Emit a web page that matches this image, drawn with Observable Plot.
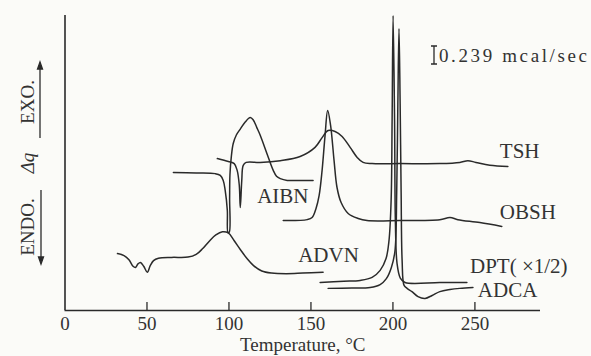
<!DOCTYPE html>
<html><head><meta charset="utf-8">
<script src="https://cdn.jsdelivr.net/npm/d3@7"></script>
<script src="https://cdn.jsdelivr.net/npm/@observablehq/plot@0.6"></script>
<style>
html,body{margin:0;padding:0;background:#fbfbf8;}
#chart svg{display:block;}
</style></head><body><div id="chart"></div>
<script>
// Temperature (°C) vs. DSC signal (arbitrary deflection units, 0–100)
const xTicks = [0, 50, 100, 150, 200, 250];

const tsh = [[92.9,51.5],[99.6,50.5],[103.2,49.8],[105.0,47.5],[106.3,42.4],[106.9,34.9],[107.8,44.0],[108.7,49.2],[110.5,50.2],[119,50.2],[131.3,50.8],[143.4,52.2],[152.5,55.3],[156.8,58.6],[160.5,61.0],[164.7,60.7],[169,59.0],[173.9,55.3],[178.2,51.9],[181.8,50.2],[187.3,49.8],[204.3,49.8],[228.6,49.8],[240.8,50.2],[245.7,50.8],[250.6,50.2],[259.1,49.2],[270.1,48.8]];

const aibn = [[66.1,46.8],[80,46.6],[91.6,46.4],[94.7,45.8],[96.5,44.1],[97.7,40.7],[99.0,33.9],[99.4,26.4],[100.2,26.6],[100.4,38],[100.6,46],[101.5,52.5],[102.6,56.6],[104.5,59.5],[106.9,61.5],[109.9,63.9],[113,65.4],[114.8,64.6],[117,62],[119,59.5],[123.3,53],[127,47.5],[129,45.5],[131.3,44.7],[135.5,44.1],[143.4,44.1],[151.3,44.1]];

const obsh = [[133.1,30.5],[147.7,30.8],[150.7,31.5],[153.1,34.6],[155,39],[156.8,47.5],[158.6,59.3],[160.2,67.8],[162.0,62.7],[164.1,50.8],[165.9,41.7],[168.4,36.6],[172.7,32.9],[178.8,31.2],[184.2,30.5],[204.3,30.5],[228.6,30.8],[234.8,31.5],[239.6,30.8],[253,29.8],[266.4,28.5]];

const advn = [[32.0,19.3],[36,18.6],[39,17.2],[41.5,15.0],[43,14.6],[44.5,15.8],[46,16.3],[48,15.0],[50.2,13.0],[52,15.2],[54,16.9],[57,17.7],[65,18.0],[75,18.1],[80,19.0],[84,21.0],[88,23.5],[92,25.6],[96,26.7],[99.6,26.3],[103,23.8],[107,20.6],[111,17.6],[115,15.2],[120,13.4],[126,12.7],[135,12.5],[145,12.7],[157.4,13.0]];

const dpt = [[155.6,9.5],[170,9.9],[180,10.2],[187.3,11.2],[192.2,13.6],[195.8,17.6],[197.6,23.7],[198.9,37.3],[199.5,64.4],[200.1,100],[201.0,64.4],[201.5,30],[202.5,16],[204.5,11],[207.4,9.5],[228.6,9.5],[245.1,9.5]];

const adca = [[160.5,7.5],[175,7.6],[186.1,7.8],[192.2,8.8],[196,10.8],[199,14.5],[201.2,20],[202.3,40],[203.0,70],[203.7,95.6],[204.4,70],[205.0,40],[205.6,17],[206.8,8.5],[208.6,7.5],[211.6,6.4],[215.3,4.7],[219.6,4.1],[223.9,5.1],[228.6,6.4],[234.8,7.1],[240.8,7.5],[248.8,7.8]];

const seriesNames = ["TSH", "AIBN", "OBSH", "ADVN", "DPT", "ADCA"];
const seriesData = [tsh, aibn, obsh, advn, dpt, adca];

// label text and its anchor point in data space (temperature, signal)
const labelText = ["TSH", "AIBN", "OBSH", "ADVN", "DPT( ×1/2)", "ADCA"];
const labelT = [265.2, 117.2, 265.2, 142.2, 247.0, 251.8];
const labelV = [53.9, 38.8, 33.4, 18.6, 15.1, 6.9];

const rows = seriesNames.flatMap((name, i) => seriesData[i].map(([t, v]) => ({name, t, v})));
const labels = labelText.map((text, i) => ({text, t: labelT[i], v: labelV[i]}));

const ink = "#2a2a2a";
const font = "Liberation Serif, DejaVu Serif, serif";

const chart = Plot.plot({
  width: 591, height: 356,
  marginTop: 15, marginLeft: 64.5, marginRight: 51, marginBottom: 46,
  style: {background: "transparent", fontFamily: font, fontSize: "19px", color: "#333"},
  x: {domain: [0, 290]},
  y: {domain: [0, 100], axis: null},
  marks: [
    Plot.ruleY([0], {stroke: ink, strokeWidth: 1.6}),
    Plot.ruleX([0], {stroke: ink, strokeWidth: 1.6}),
    Plot.ruleX(xTicks.slice(1), {y1: 0, y2: 2.7, stroke: ink, strokeWidth: 1.3}),
    Plot.axisX({ticks: xTicks, tickSize: 0, tickPadding: 6, fontSize: 19, fontFamily: font,
      label: "Temperature, °C", labelAnchor: "center", labelArrow: "none", labelOffset: 40}),
    Plot.line(rows, {x: "t", y: "v", z: "name", curve: "catmull-rom", stroke: ink, strokeWidth: 1.5}),
    Plot.text(labels, {x: "t", y: "v", text: "text", textAnchor: "start", fontSize: 21, fontFamily: font, fill: "#333"})
  ]
});

document.getElementById("chart").appendChild(chart);

// annotations: y-axis legend with arrows, and scale bar
const svg = d3.select(chart);
const g = svg.append("g").attr("fill", "#333").attr("font-family", font).attr("font-size", 19);
[["EXO.", 102, "normal"], ["Δq", 163, "italic"], ["ENDO.", 227, "normal"]].forEach(([t, y, st]) => {
  g.append("text").attr("transform", `translate(27,${y}) rotate(-90)`)
    .attr("text-anchor", "middle").attr("dy", "0.35em").attr("font-style", st).text(t);
});
const a = svg.append("g").attr("stroke", ink).attr("stroke-width", 1.3).attr("fill", ink);
a.append("line").attr("x1", 40).attr("x2", 40).attr("y1", 66).attr("y2", 138);
a.append("path").attr("d", "M40,62 L37.5,69 L42.5,69 Z");
a.append("line").attr("x1", 41).attr("x2", 41).attr("y1", 190).attr("y2", 260);
a.append("path").attr("d", "M41,264 L38.5,257 L43.5,257 Z");
a.append("path").attr("fill", "none").attr("d", "M431,46 H437 M434,46 V64 M431,64 H437");
svg.append("text").attr("x", 439).attr("y", 55).attr("dy", "0.35em")
  .attr("text-anchor", "start")
  .attr("font-family", font).attr("font-size", 19).attr("fill", "#333")
  .attr("textLength", 148).attr("lengthAdjust", "spacing").text("0.239 mcal/sec");
</script></body></html>
